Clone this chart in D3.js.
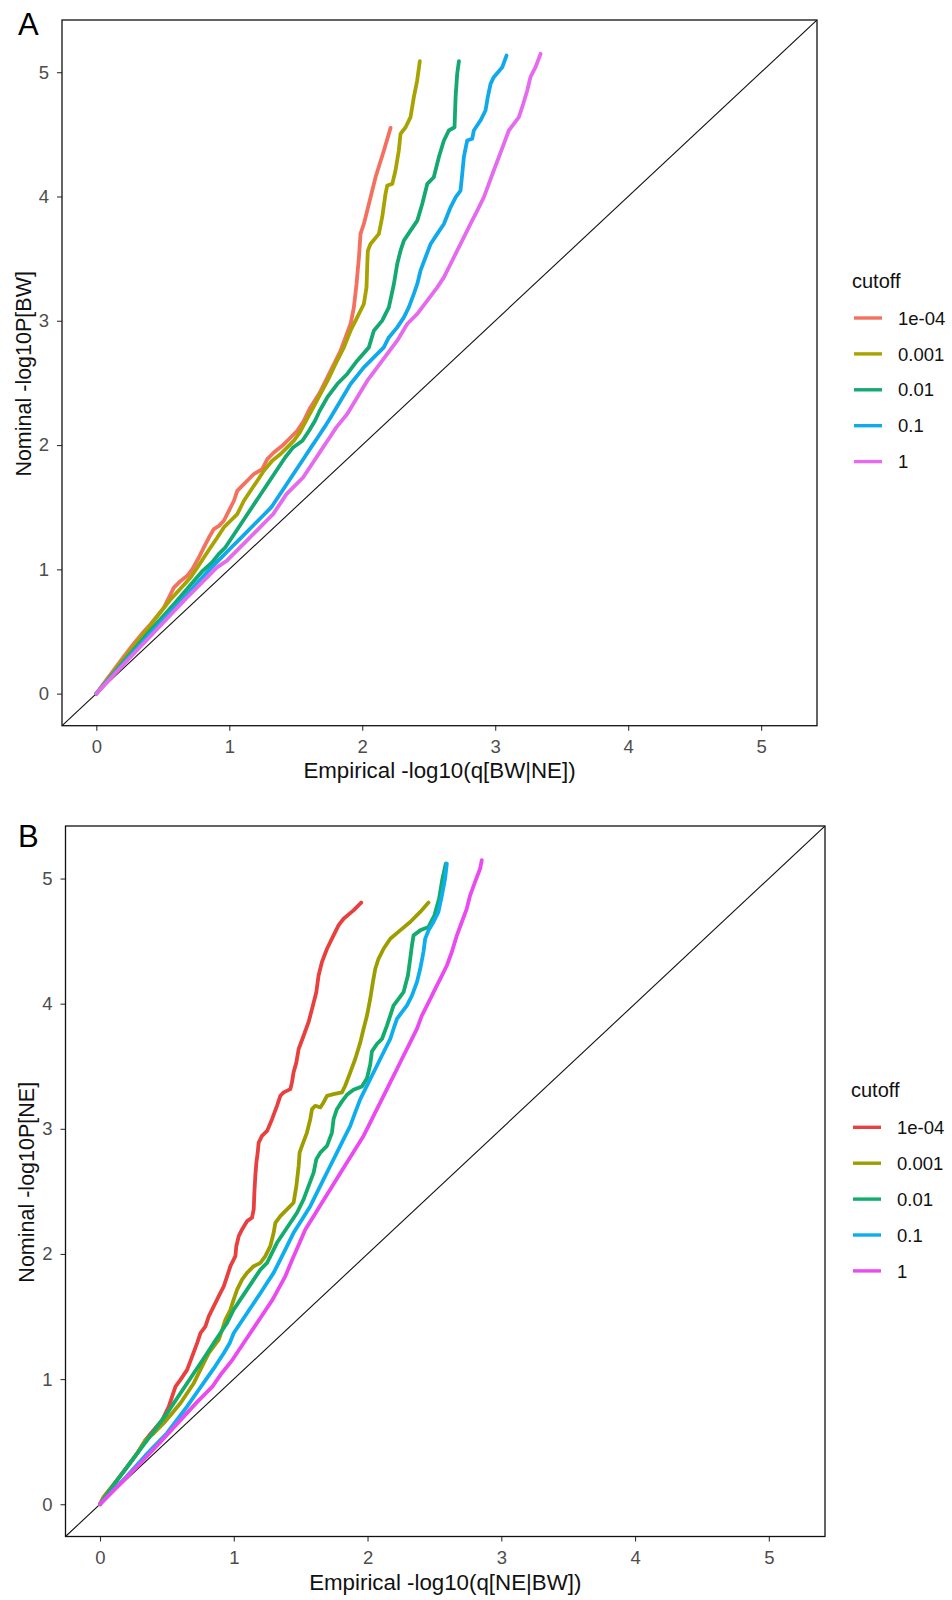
<!DOCTYPE html>
<html>
<head>
<meta charset="utf-8">
<script src="https://cdn.jsdelivr.net/npm/d3@7/dist/d3.min.js"></script>
<style>
body{margin:0;background:#ffffff;}
</style>
</head>
<body>
<div id="Main_Part"></div>
<script>
var CutoffNames = ["1e-04","0.001","0.01","0.1","1"];
var ColorsA = ["#F4715F","#A8A300","#14A873","#10A9EC","#E56AEE"];
var ColorsB = ["#E8403F","#9E9D00","#12AC6C","#0EADEE","#EA4AEF"];
var AxisTicks = [0,1,2,3,4,5];
var AxisDomain = [-0.258,5.42];

// panel A : Empirical -log10(q[BW|NE]) vs Nominal -log10P[BW]
var QQA_1e04 = [[0,0],[0.09,0.13],[0.18,0.26],[0.28,0.40],[0.358,0.50],[0.408,0.559],[0.508,0.692],[0.559,0.800],[0.583,0.853],[0.634,0.907],[0.684,0.948],[0.722,1.002],[0.771,1.095],[0.809,1.176],[0.847,1.256],[0.884,1.324],[0.922,1.350],[0.959,1.391],[0.997,1.471],[1.035,1.552],[1.060,1.632],[1.085,1.659],[1.135,1.713],[1.185,1.767],[1.248,1.807],[1.286,1.887],[1.335,1.940],[1.398,1.994],[1.461,2.061],[1.511,2.115],[1.561,2.196],[1.610,2.303],[1.680,2.420],[1.762,2.598],[1.837,2.759],[1.912,2.974],[1.937,3.108],[1.957,3.296],[1.975,3.511],[1.987,3.699],[2.012,3.779],[2.050,3.940],[2.100,4.155],[2.163,4.370],[2.213,4.552]];
var QQA_0001 = [[0,0],[0.19,0.26],[0.37,0.50],[0.56,0.76],[0.709,0.934],[0.759,1.014],[0.809,1.095],[0.859,1.176],[0.910,1.256],[0.959,1.337],[1.010,1.391],[1.060,1.444],[1.110,1.552],[1.160,1.632],[1.211,1.713],[1.260,1.793],[1.323,1.874],[1.386,1.928],[1.436,1.981],[1.486,2.035],[1.53,2.10],[1.58,2.20],[1.63,2.30],[1.68,2.40],[1.74,2.52],[1.799,2.652],[1.862,2.786],[1.912,2.920],[1.962,3.027],[2.012,3.135],[2.032,3.269],[2.038,3.457],[2.042,3.564],[2.062,3.618],[2.125,3.699],[2.150,3.833],[2.175,4.021],[2.188,4.088],[2.226,4.101],[2.250,4.209],[2.275,4.370],[2.288,4.504],[2.326,4.557],[2.363,4.638],[2.388,4.799],[2.413,4.933],[2.433,5.089]];
var QQA_001 = [[0,0],[0.2,0.25],[0.4,0.5],[0.6,0.74],[0.80,0.988],[0.87,1.055],[0.92,1.122],[0.97,1.176],[1.02,1.256],[1.07,1.337],[1.12,1.417],[1.17,1.498],[1.22,1.578],[1.27,1.659],[1.32,1.739],[1.37,1.820],[1.42,1.900],[1.48,1.981],[1.55,2.035],[1.60,2.115],[1.645,2.196],[1.68,2.276],[1.737,2.383],[1.812,2.491],[1.887,2.572],[1.962,2.679],[2.050,2.786],[2.087,2.920],[2.150,3.001],[2.200,3.108],[2.238,3.296],[2.263,3.457],[2.288,3.564],[2.313,3.645],[2.363,3.725],[2.414,3.806],[2.451,3.940],[2.489,4.101],[2.538,4.155],[2.576,4.316],[2.614,4.450],[2.651,4.531],[2.694,4.557],[2.702,4.799],[2.714,4.987],[2.727,5.089]];
var QQA_01 = [[0,0],[0.2,0.24],[0.42,0.5],[0.65,0.76],[0.865,1.014],[0.94,1.095],[1.015,1.176],[1.09,1.256],[1.165,1.337],[1.24,1.417],[1.315,1.498],[1.365,1.578],[1.415,1.659],[1.465,1.739],[1.515,1.820],[1.565,1.900],[1.615,1.981],[1.665,2.061],[1.715,2.142],[1.762,2.222],[1.837,2.357],[1.912,2.491],[2.012,2.625],[2.087,2.705],[2.162,2.786],[2.200,2.866],[2.263,2.947],[2.313,3.027],[2.350,3.108],[2.388,3.216],[2.414,3.296],[2.438,3.403],[2.476,3.511],[2.514,3.618],[2.564,3.699],[2.614,3.779],[2.664,3.913],[2.702,3.993],[2.739,4.047],[2.752,4.182],[2.764,4.316],[2.789,4.450],[2.827,4.464],[2.839,4.531],[2.889,4.611],[2.927,4.692],[2.944,4.799],[2.965,4.906],[2.989,4.960],[3.053,5.040],[3.085,5.134]];
var QQA_1 = [[0,0],[0.21,0.24],[0.44,0.5],[0.67,0.76],[0.905,1.014],[0.98,1.068],[1.055,1.149],[1.13,1.229],[1.205,1.310],[1.28,1.391],[1.33,1.444],[1.38,1.525],[1.43,1.605],[1.505,1.686],[1.555,1.739],[1.605,1.820],[1.655,1.900],[1.705,1.981],[1.755,2.061],[1.805,2.142],[1.887,2.250],[1.962,2.383],[2.038,2.518],[2.113,2.625],[2.188,2.733],[2.263,2.840],[2.338,2.974],[2.414,3.055],[2.489,3.162],[2.564,3.269],[2.614,3.349],[2.664,3.457],[2.714,3.564],[2.764,3.671],[2.814,3.779],[2.865,3.886],[2.914,3.993],[2.952,4.101],[2.989,4.209],[3.027,4.316],[3.065,4.423],[3.102,4.531],[3.140,4.585],[3.178,4.638],[3.211,4.746],[3.241,4.853],[3.265,4.960],[3.303,5.040],[3.341,5.148]];

// panel B : Empirical -log10(q[NE|BW]) vs Nominal -log10P[NE]
var QQB_1e04 = [[0,0],[0.028,0.058],[0.128,0.192],[0.203,0.299],[0.278,0.406],[0.340,0.513],[0.402,0.593],[0.465,0.673],[0.514,0.780],[0.539,0.860],[0.564,0.940],[0.601,0.994],[0.651,1.074],[0.689,1.181],[0.726,1.288],[0.751,1.368],[0.788,1.421],[0.813,1.501],[0.850,1.581],[0.887,1.661],[0.925,1.741],[0.950,1.821],[0.975,1.902],[1.012,1.982],[1.019,2.062],[1.037,2.142],[1.062,2.196],[1.099,2.262],[1.136,2.289],[1.149,2.356],[1.154,2.490],[1.161,2.623],[1.169,2.730],[1.179,2.810],[1.186,2.890],[1.211,2.943],[1.249,2.983],[1.286,3.077],[1.323,3.184],[1.348,3.264],[1.373,3.291],[1.423,3.317],[1.435,3.371],[1.447,3.451],[1.468,3.531],[1.485,3.638],[1.522,3.744],[1.559,3.852],[1.585,3.958],[1.617,4.092],[1.634,4.225],[1.659,4.332],[1.697,4.439],[1.746,4.546],[1.783,4.626],[1.821,4.679],[1.895,4.746],[1.953,4.808]];
var QQB_0001 = [[0,0],[0.028,0.058],[0.128,0.192],[0.203,0.299],[0.278,0.406],[0.340,0.513],[0.402,0.567],[0.476,0.647],[0.539,0.727],[0.601,0.807],[0.651,0.887],[0.701,0.967],[0.738,1.047],[0.775,1.127],[0.813,1.207],[0.850,1.261],[0.887,1.314],[0.913,1.394],[0.937,1.474],[0.975,1.554],[0.999,1.635],[1.025,1.715],[1.062,1.795],[1.099,1.849],[1.149,1.902],[1.199,1.929],[1.236,1.982],[1.273,2.062],[1.298,2.169],[1.311,2.249],[1.348,2.302],[1.398,2.356],[1.447,2.409],[1.468,2.542],[1.485,2.703],[1.492,2.810],[1.510,2.863],[1.547,2.970],[1.572,3.077],[1.585,3.157],[1.609,3.184],[1.647,3.171],[1.671,3.211],[1.697,3.264],[1.746,3.277],[1.809,3.291],[1.833,3.344],[1.871,3.451],[1.908,3.558],[1.946,3.691],[1.970,3.798],[1.996,3.905],[2.020,4.038],[2.040,4.172],[2.058,4.279],[2.082,4.359],[2.120,4.439],[2.170,4.519],[2.244,4.586],[2.319,4.653],[2.394,4.733],[2.456,4.808]];
var QQB_001 = [[0,0],[0.06,0.09],[0.128,0.192],[0.203,0.299],[0.278,0.406],[0.353,0.513],[0.427,0.619],[0.502,0.727],[0.551,0.807],[0.601,0.887],[0.651,0.967],[0.701,1.047],[0.751,1.127],[0.801,1.207],[0.850,1.288],[0.900,1.368],[0.950,1.448],[0.999,1.554],[1.049,1.635],[1.099,1.715],[1.149,1.795],[1.199,1.875],[1.249,1.929],[1.286,2.009],[1.323,2.089],[1.373,2.169],[1.423,2.249],[1.473,2.329],[1.522,2.436],[1.559,2.542],[1.597,2.650],[1.617,2.756],[1.647,2.810],[1.697,2.863],[1.734,2.970],[1.746,3.077],[1.771,3.157],[1.809,3.219],[1.846,3.272],[1.895,3.312],[1.958,3.339],[1.996,3.405],[2.020,3.512],[2.033,3.619],[2.070,3.678],[2.108,3.718],[2.145,3.825],[2.170,3.905],[2.194,3.985],[2.232,4.038],[2.269,4.092],[2.302,4.225],[2.319,4.359],[2.332,4.466],[2.344,4.546],[2.394,4.586],[2.456,4.613],[2.500,4.706],[2.535,4.840],[2.560,5.000],[2.585,5.120]];
var QQB_01 = [[0,0],[0.18,0.2],[0.34,0.39],[0.50,0.567],[0.575,0.673],[0.65,0.780],[0.72,0.887],[0.79,0.994],[0.86,1.100],[0.925,1.207],[0.97,1.288],[1.0,1.368],[1.05,1.448],[1.10,1.528],[1.15,1.608],[1.20,1.688],[1.248,1.768],[1.298,1.849],[1.348,1.955],[1.398,2.062],[1.447,2.169],[1.510,2.276],[1.572,2.382],[1.622,2.490],[1.671,2.596],[1.721,2.703],[1.771,2.810],[1.821,2.917],[1.871,3.023],[1.908,3.131],[1.946,3.237],[1.983,3.317],[2.020,3.397],[2.058,3.478],[2.095,3.558],[2.132,3.638],[2.170,3.718],[2.194,3.798],[2.220,3.878],[2.257,3.932],[2.294,3.985],[2.332,4.065],[2.369,4.172],[2.394,4.279],[2.418,4.413],[2.431,4.519],[2.456,4.586],[2.493,4.653],[2.530,4.733],[2.556,4.866],[2.580,5.000],[2.593,5.120]];
var QQB_1 = [[0,0],[0.15,0.16],[0.3,0.325],[0.45,0.495],[0.6,0.67],[0.72,0.81],[0.84,0.94],[0.91,1.047],[0.99,1.154],[1.09,1.314],[1.19,1.474],[1.29,1.635],[1.385,1.821],[1.435,1.95],[1.48,2.06],[1.535,2.196],[1.597,2.302],[1.659,2.409],[1.721,2.516],[1.783,2.623],[1.846,2.730],[1.908,2.837],[1.970,2.943],[2.020,3.050],[2.070,3.157],[2.120,3.264],[2.170,3.371],[2.220,3.478],[2.269,3.584],[2.319,3.691],[2.369,3.798],[2.406,3.905],[2.444,3.985],[2.481,4.065],[2.518,4.145],[2.556,4.225],[2.593,4.305],[2.630,4.413],[2.668,4.546],[2.705,4.653],[2.742,4.760],[2.767,4.866],[2.804,4.973],[2.842,5.080],[2.854,5.147]];

var FontTickSize = 18.5;
var FontTitleSize = 21.5;

var MainSvg = d3.select('#Main_Part')
	.append("svg")
	.attr("width",952)
	.attr("height",1600)
	.style("display","block")
	.style("font-family","'Liberation Sans', Arial, sans-serif");

function DrawPanel(Cfg)
{
	var XScale = d3.scaleLinear().domain(AxisDomain).range([Cfg.left,Cfg.right]);
	var YScale = d3.scaleLinear().domain(AxisDomain).range([Cfg.bottom,Cfg.top]);

	MainSvg.append("clipPath")
	.attr("id","Clip"+Cfg.id)
	.append("rect")
	.attr("x",Cfg.left)
	.attr("y",Cfg.top)
	.attr("width",Cfg.right-Cfg.left)
	.attr("height",Cfg.bottom-Cfg.top);

	var Panel = MainSvg.append("g").attr("class","panel");

	// null line y = x, corner to corner
	Panel.append("line")
	.attr("clip-path","url(#Clip"+Cfg.id+")")
	.attr("x1",XScale(AxisDomain[0]))
	.attr("y1",YScale(AxisDomain[0]))
	.attr("x2",XScale(AxisDomain[1]))
	.attr("y2",YScale(AxisDomain[1]))
	.style("stroke","#111")
	.style("stroke-width",1.1);

	var QQLine = d3.line()
	.x(function(d){ return XScale(d[0]); })
	.y(function(d){ return YScale(d[1]); });

	Panel.append("g")
	.attr("clip-path","url(#Clip"+Cfg.id+")")
	.selectAll("path")
	.data(Cfg.series)
	.enter()
	.append("path")
	.attr("d",function(d){ return QQLine(d); })
	.style("fill","none")
	.style("stroke",function(d,i){ return Cfg.colors[i]; })
	.style("stroke-width",3.8)
	.style("stroke-linejoin","round")
	.style("stroke-linecap","round");

	// axes
	var XAxis = Panel.append("g")
	.attr("transform","translate(0,"+Cfg.bottom+")")
	.call(d3.axisBottom(XScale).tickValues(AxisTicks).tickSize(5).tickPadding(5).tickFormat(d3.format("d")));
	var YAxis = Panel.append("g")
	.attr("transform","translate("+Cfg.left+",0)")
	.call(d3.axisLeft(YScale).tickValues(AxisTicks).tickSize(5).tickPadding(8).tickFormat(d3.format("d")));

	[XAxis,YAxis].forEach(function(Ax){
		Ax.select(".domain").remove();
		Ax.selectAll(".tick line").style("stroke","#333").style("stroke-width",1.1);
		Ax.selectAll(".tick text")
		.style("font-family","'Liberation Sans', Arial, sans-serif")
		.style("font-size",FontTickSize+"px")
		.style("fill","#4D4D4D");
	});
	XAxis.selectAll(".tick text").attr("y",null).attr("dy",null).attr("y",27.5);

	// panel border
	Panel.append("rect")
	.attr("x",Cfg.left)
	.attr("y",Cfg.top)
	.attr("width",Cfg.right-Cfg.left)
	.attr("height",Cfg.bottom-Cfg.top)
	.style("fill","none")
	.style("stroke","#111")
	.style("stroke-width",1.3);

	// titles
	Panel.append("text")
	.attr("x",(Cfg.left+Cfg.right)/2)
	.attr("y",Cfg.bottom+Cfg.xTitleGap)
	.attr("text-anchor","middle")
	.text(Cfg.xTitle)
	.style("font-size",(FontTitleSize+0.8)+"px")
	.style("fill","#111");

	Panel.append("text")
	.attr("transform","translate("+Cfg.yTitleX+","+((Cfg.top+Cfg.bottom)/2+1)+") rotate(-90)")
	.attr("text-anchor","middle")
	.text(Cfg.yTitle)
	.style("font-size",FontTitleSize+"px")
	.style("fill","#111");

	Panel.append("text")
	.attr("x",18)
	.attr("y",Cfg.letterY)
	.text(Cfg.letter)
	.style("font-size","31px")
	.style("fill","#000");

	// legend
	var Legend = Panel.append("g");
	Legend.append("text")
	.attr("x",Cfg.legendX-2)
	.attr("y",Cfg.legendTitleY)
	.text("cutoff")
	.style("font-size","20px")
	.style("fill","#111");

	var Keys = Legend.selectAll("g.key")
	.data(CutoffNames)
	.enter()
	.append("g")
	.attr("class","key")
	.attr("transform",function(d,i){ return "translate("+Cfg.legendX+","+(Cfg.legendKeyY+i*35.9)+")"; });

	Keys.append("line")
	.attr("x1",0)
	.attr("x2",28)
	.attr("y1",0)
	.attr("y2",0)
	.style("stroke",function(d,i){ return Cfg.colors[i]; })
	.style("stroke-width",3.4);

	Keys.append("text")
	.attr("x",44)
	.attr("y",0)
	.attr("dy","0.36em")
	.text(function(d){ return d; })
	.style("font-size",FontTickSize+"px")
	.style("fill","#111");

	return null;
}

DrawPanel({
	id:"A", letter:"A", letterY:35,
	left:62, right:817, top:20, bottom:725.7,
	series:[QQA_1e04,QQA_0001,QQA_001,QQA_01,QQA_1],
	colors:ColorsA,
	xTitle:"Empirical -log10(q[BW|NE])", xTitleGap:52.5,
	yTitle:"Nominal -log10P[BW]", yTitleX:31,
	legendX:854, legendTitleY:288, legendKeyY:318
});

DrawPanel({
	id:"B", letter:"B", letterY:847,
	left:65.5, right:825, top:826, bottom:1536.5,
	series:[QQB_1e04,QQB_0001,QQB_001,QQB_01,QQB_1],
	colors:ColorsB,
	xTitle:"Empirical -log10(q[NE|BW])", xTitleGap:53.5,
	yTitle:"Nominal -log10P[NE]", yTitleX:34,
	legendX:853, legendTitleY:1097, legendKeyY:1127.3
});
</script>
</body>
</html>
